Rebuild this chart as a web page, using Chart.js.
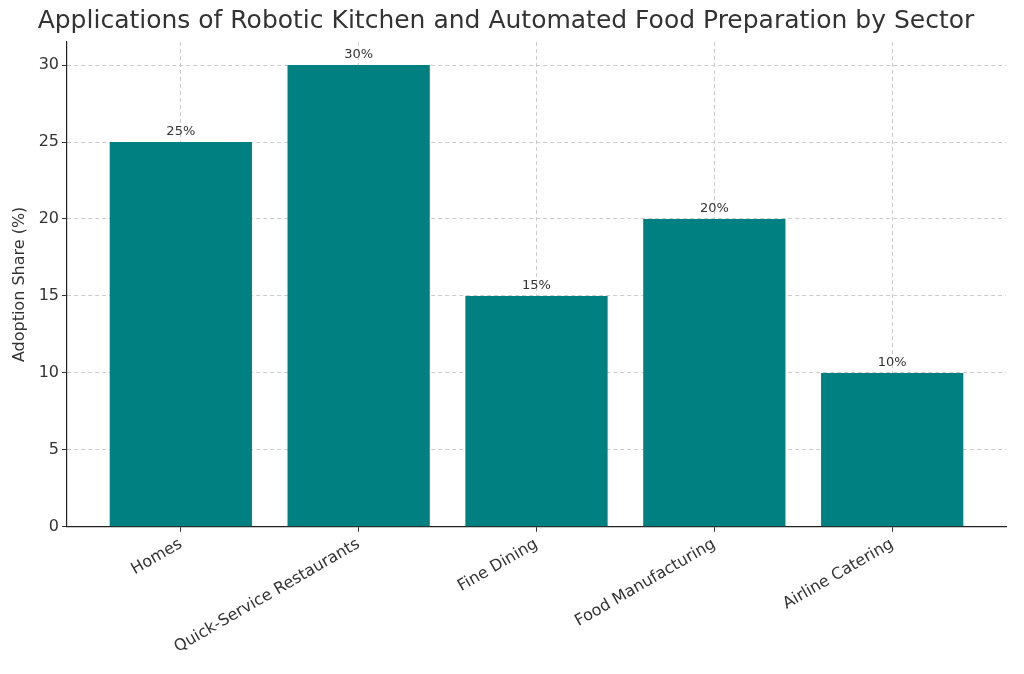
<!DOCTYPE html>
<html><head><meta charset="utf-8">
<script src="https://cdn.jsdelivr.net/npm/chart.js@4"></script>
<style>html,body{margin:0;padding:0;background:#fff}#w{width:1024px;height:674px}</style>
</head><body><div id="w"><canvas id="c"></canvas></div>
<script>
const categories = ["Homes","Quick-Service Restaurants","Fine Dining","Food Manufacturing","Airline Catering"];
const values = [25,30,15,20,10];
const yTicks = [0,5,10,15,20,25,30];
const title = "Applications of Robotic Kitchen and Automated Food Preparation by Sector";
const F = "DejaVu Sans";
const labelPlugin = {
  id:'lbl',
  afterDatasetsDraw(chart){
    const ctx=chart.ctx, meta=chart.getDatasetMeta(0);
    ctx.save(); ctx.font='13px "'+F+'"'; ctx.fillStyle='#333'; ctx.textAlign='center'; ctx.textBaseline='bottom';
    meta.data.forEach((b,i)=>ctx.fillText(values[i]+'%', b.x, b.y-4));
    ctx.restore();
  }
};
new Chart(document.getElementById('c'),{
  type:'bar',
  data:{datasets:[{data:values.map((v,i)=>({x:i,y:v})),backgroundColor:'#008080',barPercentage:0.8,categoryPercentage:1}]},
  options:{
    responsive:true,maintainAspectRatio:false,animation:false,
    layout:{padding:{top:6,right:18,left:6,bottom:14}},
    plugins:{legend:{display:false},tooltip:{enabled:false},
      title:{display:true,text:title,color:'#333',font:{family:F,size:25,weight:'normal'},padding:{top:0,bottom:6}}},
    scales:{
      x:{type:'linear',min:-0.64,max:4.64,offset:false,
        afterBuildTicks(a){a.ticks=categories.map((_,i)=>({value:i}));},
        ticks:{callback:(v)=>categories[v],minRotation:30,maxRotation:30,color:'#333',font:{family:F,size:16}},
        grid:{offset:false,color:'#ccc',drawTicks:true,tickColor:'#333',tickLength:5},
        border:{color:'#222',width:1.2,dash:[4,3]}},
      y:{min:0,max:31.5,
        afterBuildTicks(a){a.ticks=yTicks.map(v=>({value:v}));},
        afterFit(a){a.width=61;},
        title:{display:true,text:'Adoption Share (%)',color:'#333',font:{family:F,size:16}},
        ticks:{color:'#333',font:{family:F,size:16}},
        grid:{color:'#ccc',tickColor:'#333',tickLength:5},
        border:{color:'#222',width:1.2,dash:[4,3]}}
    }
  },
  plugins:[labelPlugin]
});
</script></body></html>
